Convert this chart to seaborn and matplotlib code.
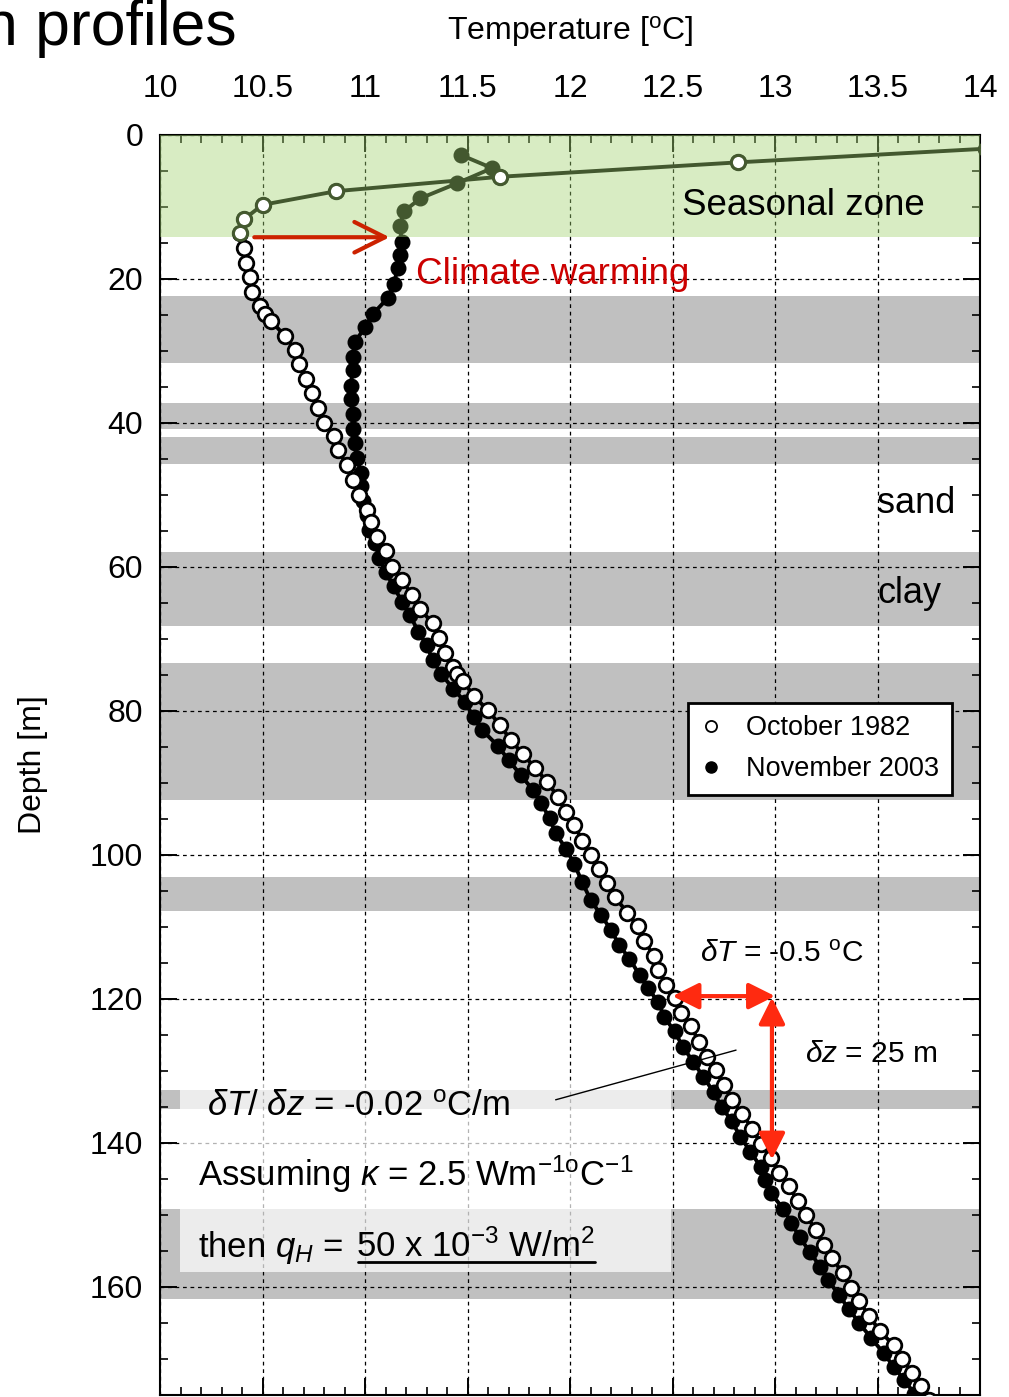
import matplotlib
matplotlib.use("Agg")
import matplotlib.pyplot as plt
import matplotlib.transforms as mtransforms
from matplotlib.lines import Line2D
from matplotlib.patches import Rectangle
from matplotlib.ticker import MultipleLocator, FuncFormatter
import seaborn as sns

# October 1982 log (open circles)
oct_depth = [1.9, 3.8, 5.8, 7.8, 9.7, 11.7, 13.6, 15.7, 17.8, 19.7, 21.8, 23.8, 24.8,
             25.8, 27.9, 29.9, 31.8, 33.9, 35.9, 37.9, 40.0, 41.8, 43.8, 45.8, 47.9,
             50.0, 52.1, 53.8, 55.8, 57.8, 60.0, 61.8, 63.9, 65.9, 67.8, 69.8, 71.9,
             73.9, 74.9, 75.9, 77.9, 79.9, 82.0, 84.0, 86.0, 87.9, 89.9, 91.9, 94.0,
             95.8, 98.0, 100.0, 102.0, 103.9, 105.9, 108.0, 109.9, 111.9, 114.0, 116.0,
             118.1, 119.9, 122.0, 123.8, 126.0, 128.0, 129.9, 131.9, 134.0, 136.0,
             138.0, 140.1, 142.1, 144.1, 146.0, 148.1, 150.0, 152.1, 154.1, 156.0,
             158.1, 160.1, 162.0, 164.0, 166.1, 168.1, 170.0, 171.9, 173.8, 175.7]
oct_temp = [14.03, 12.82, 11.66, 10.86, 10.50, 10.41, 10.39, 10.41, 10.42, 10.44, 10.45, 10.49, 10.51,
            10.54, 10.61, 10.66, 10.68, 10.71, 10.74, 10.77, 10.80, 10.85, 10.87, 10.91, 10.94,
            10.97, 11.01, 11.03, 11.06, 11.10, 11.13, 11.18, 11.23, 11.27, 11.33, 11.36, 11.39,
            11.43, 11.45, 11.48, 11.53, 11.60, 11.66, 11.71, 11.77, 11.83, 11.89, 11.94, 11.98,
            12.02, 12.06, 12.10, 12.14, 12.18, 12.22, 12.28, 12.33, 12.36, 12.41, 12.43,
            12.47, 12.51, 12.54, 12.59, 12.63, 12.67, 12.71, 12.75, 12.79, 12.84,
            12.89, 12.93, 12.98, 13.02, 13.07, 13.11, 13.15, 13.20, 13.24, 13.28,
            13.33, 13.37, 13.41, 13.46, 13.51, 13.58, 13.62, 13.67, 13.71, 13.75]

# November 2003 log (filled circles)
nov_depth = [2.8, 4.6, 6.7, 8.8, 10.6, 12.7, 14.8, 16.6, 18.5, 20.7, 22.7, 24.8, 26.7,
             28.8, 30.8, 32.7, 34.9, 36.7, 38.8, 40.8, 42.8, 44.8, 46.9, 48.8, 50.9,
             52.8, 54.8, 56.7, 58.8, 60.7, 62.7, 64.8, 66.7, 69.0, 70.8, 72.9, 74.8,
             76.9, 78.8, 80.9, 82.6, 84.9, 86.8, 88.9, 91.0, 92.8, 94.9, 97.0, 99.1,
             101.2, 103.8, 106.2, 108.3, 110.4, 112.5, 114.4, 116.7, 118.5, 120.4,
             122.5, 124.5, 126.6, 128.7, 130.8, 132.9, 135.0, 137.0, 139.1, 141.2,
             143.3, 145.1, 147.0, 149.1, 151.1, 153.1, 155.1, 157.2, 159.0, 161.1,
             163.0, 165.0, 167.1, 169.2, 171.1, 172.9, 174.8, 176.5]
nov_temp = [11.47, 11.62, 11.45, 11.27, 11.19, 11.17, 11.18, 11.17, 11.16, 11.14, 11.11, 11.04, 11.00,
            10.95, 10.94, 10.94, 10.93, 10.93, 10.94, 10.94, 10.95, 10.96, 10.98, 10.98, 10.99,
            11.01, 11.02, 11.05, 11.07, 11.10, 11.14, 11.18, 11.22, 11.26, 11.30, 11.33, 11.37,
            11.43, 11.49, 11.53, 11.57, 11.65, 11.70, 11.76, 11.82, 11.86, 11.90, 11.93, 11.98,
            12.02, 12.06, 12.10, 12.15, 12.20, 12.24, 12.29, 12.34, 12.38, 12.43,
            12.46, 12.51, 12.55, 12.60, 12.65, 12.70, 12.74, 12.79, 12.83, 12.88,
            12.93, 12.95, 12.98, 13.04, 13.08, 13.12, 13.17, 13.22, 13.26, 13.31,
            13.36, 13.41, 13.47, 13.53, 13.58, 13.63, 13.68, 13.72]

# clay layers (grey bands) and seasonal zone, depth in m
clay_top = [22.4, 37.2, 42.0, 57.9, 73.3, 103.0, 132.6, 149.1]
clay_bottom = [31.7, 40.8, 45.7, 68.2, 92.4, 107.8, 135.3, 161.7]
seasonal_bottom = 14.2

dark_green = "#44592f"

sns.set_style("white")
plt.rcParams["font.family"] = ["Liberation Sans", "DejaVu Sans"]
plt.rcParams["text.color"] = "black"
plt.rcParams["axes.labelcolor"] = "black"
plt.rcParams["mathtext.fontset"] = "custom"
plt.rcParams["mathtext.rm"] = "Liberation Sans"
plt.rcParams["mathtext.it"] = "Liberation Sans:italic"
plt.rcParams["mathtext.bf"] = "Liberation Sans:bold"

fig = plt.figure(figsize=(10.09, 13.97), dpi=100)
ax = fig.add_axes([160 / 1009, 2 / 1397, 820 / 1009, 1260 / 1397])

for top, bot in zip(clay_top, clay_bottom):
    ax.axhspan(top, bot, color="#c0c0c0", lw=0, zorder=1)

# text box (semi transparent white)
ax.add_patch(Rectangle((10.097, 131.5), 2.396, 26.4, facecolor="white", alpha=0.7,
                       lw=0, zorder=1.8))

sns.lineplot(x=oct_temp, y=oct_depth, sort=False, estimator=None, ax=ax,
             color="black", linewidth=2.8, marker="o", markersize=10.5,
             markerfacecolor="white", markeredgecolor="black",
             markeredgewidth=2.0, zorder=2.7)
sns.lineplot(x=nov_temp, y=nov_depth, sort=False, estimator=None, ax=ax,
             color="black", linewidth=2.8, marker="o", markersize=10.5,
             markerfacecolor="black", markeredgecolor="black",
             markeredgewidth=1.0, zorder=2.6)

# seasonal zone overlay tints everything under it
ax.axhspan(0, seasonal_bottom, facecolor=(0.635, 0.831, 0.448), alpha=0.42,
           lw=0, zorder=3)
oct_season_t = [t for t, d in zip(oct_temp, oct_depth) if d < seasonal_bottom]
oct_season_d = [d for d in oct_depth if d < seasonal_bottom]
sns.scatterplot(x=oct_season_t, y=oct_season_d, ax=ax, s=100, color="white",
                edgecolor=dark_green, linewidth=2.0, zorder=5, legend=False)

ax.set_xlim(10, 14)
ax.set_ylim(175, 0)
ax.set_axisbelow("line")
ax.xaxis.set_major_locator(MultipleLocator(0.5))
ax.xaxis.set_minor_locator(MultipleLocator(0.1))
ax.yaxis.set_major_locator(MultipleLocator(20))
ax.yaxis.set_minor_locator(MultipleLocator(5))
ax.xaxis.set_major_formatter(FuncFormatter(lambda v, p: f"{v:g}"))
ax.grid(True, which="major", color="black", linestyle=(0, (3, 3)), linewidth=0.9)
ax.tick_params(which="both", direction="in", top=True, bottom=True, left=True,
               right=True, labeltop=True, labelbottom=False, colors="black")
ax.tick_params(which="major", length=12, width=1.4, labelsize=23)
ax.tick_params(which="minor", length=6, width=1.2)
ax.tick_params(axis="x", which="major", pad=22)
ax.tick_params(axis="y", which="major", pad=12)
for sp in ax.spines.values():
    sp.set_color("black")
    sp.set_linewidth(1.5)

ax.xaxis.set_label_position("top")
ax.set_xlabel(r"Temperature [$^{\rm o}$C]", fontsize=23, labelpad=25)
ax.set_ylabel("Depth [m]", fontsize=23, labelpad=30)

fig.text(0.2349, 0.9678, "n profiles", fontsize=45, ha="right", va="baseline")

ax.text(12.546, 11.1, "Seasonal zone", fontsize=26.5, va="baseline", zorder=6)
ax.text(11.25, 20.7, "Climate warming", fontsize=26.5, color="#cc0000",
        va="baseline", zorder=6)
ax.text(13.5, 52.5, "sand", fontsize=26, va="baseline", zorder=6)
ax.text(13.5, 65.0, "clay", fontsize=26, va="baseline", zorder=6)
ax.text(12.634, 114.8, r"$\delta T$ = -0.5 $^{\rm o}$C", fontsize=21.5,
        va="baseline", zorder=6)
ax.text(13.146, 128.7, r"$\delta z$ = 25 m", fontsize=21.5, va="baseline", zorder=6)
ax.text(10.23, 136.3, r"$\delta T$/ $\delta z$ = -0.02 $^{\rm o}$C/m", fontsize=25,
        va="baseline", zorder=6)
ax.text(10.185, 146.0, r"Assuming $\kappa$ = 2.5 Wm$^{\rm {-}1o}$C$^{\rm {-}1}$",
        fontsize=25, va="baseline", zorder=6)
t_then = ax.text(10.185, 155.8, r"then $q_H$ =", fontsize=25, va="baseline", zorder=6)

ax.plot([11.93, 12.81], [134.0, 127.1], color="black", lw=1.0, zorder=6)

ax.annotate("", xy=(11.12, seasonal_bottom), xytext=(10.46, seasonal_bottom),
            arrowprops=dict(arrowstyle="->,head_length=1.1,head_width=0.55",
                            color="#cc2200", lw=3, mutation_scale=20,
                            shrinkA=0, shrinkB=0), zorder=6)
ax.annotate("", xy=(13.0, 119.6), xytext=(12.5, 119.6),
            arrowprops=dict(arrowstyle="<|-|>,head_length=0.8,head_width=0.4",
                            color="#ff2a10", lw=3, mutation_scale=20,
                            shrinkA=0, shrinkB=0), zorder=6)
ax.annotate("", xy=(12.985, 142.3), xytext=(12.985, 119.8),
            arrowprops=dict(arrowstyle="<|-|>,head_length=0.8,head_width=0.4",
                            color="#ff2a10", lw=3, mutation_scale=20,
                            shrinkA=0, shrinkB=0), zorder=6)

handles = [
    Line2D([], [], ls="none", marker="o", markersize=8, markerfacecolor="white",
           markeredgecolor="black", markeredgewidth=1.3),
    Line2D([], [], ls="none", marker="o", markersize=8, markerfacecolor="black",
           markeredgecolor="black"),
]
leg = ax.legend(handles, ["October 1982", "November 2003"], loc="upper left",
                bbox_to_anchor=(0.644, 0.549), borderaxespad=0, fontsize=19.5,
                frameon=True, fancybox=False, framealpha=1, edgecolor="black",
                handlelength=0.8, handletextpad=0.9, borderpad=0.45,
                labelspacing=0.55)
leg.get_frame().set_linewidth(2)
leg.set_zorder(7)

# underlined value after "then q_H ="
fig.canvas.draw()
renderer = fig.canvas.get_renderer()
bb1 = t_then.get_window_extent(renderer)
x2 = ax.transData.inverted().transform((bb1.x1 + 13, 0))[0]
t_val = ax.text(x2, 155.8, r"50 x 10$^{\rm {-}3}$ W/m$^{\rm 2}$", fontsize=25,
                va="baseline", zorder=6)
fig.canvas.draw()
bb2 = t_val.get_window_extent(renderer)
base_y = ax.transData.transform((x2, 155.8))[1]
fig.add_artist(Line2D([bb2.x0 + 2, bb2.x1], [base_y - 5, base_y - 5],
                      transform=mtransforms.IdentityTransform(), color="black", lw=2))

fig.savefig("out.png", dpi=100)
